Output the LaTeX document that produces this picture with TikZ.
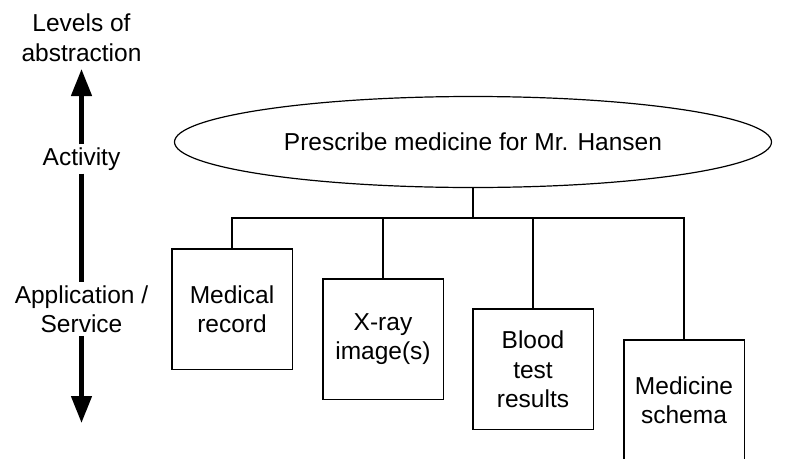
\documentclass[tikz,border=0pt]{standalone}
\usepackage{fontspec}
\setmainfont{Liberation Sans}
\usetikzlibrary{arrows.meta,positioning,shapes.geometric}
\definecolor{mhInk}{RGB}{0,0,0}
\tikzset{
  lbl/.style={align=center,inner sep=3pt,font=\fontsize{24.5}{29.5}\selectfont},
  goalnode/.style={ellipse,draw=mhInk,line width=1.2pt,inner sep=0pt,
    minimum width=597pt,minimum height=91pt,font=\fontsize{24.5}{29.5}\selectfont},
  appbox/.style={draw=mhInk,line width=1.5pt,minimum size=120.5pt,inner sep=0pt,
    anchor=north,align=center,font=\fontsize{24.5}{29.5}\selectfont},
  wire/.style={draw=mhInk,line width=1.8pt},
  levelarrow/.style={draw=mhInk,line width=4.5pt,-{Triangle[length=27pt,width=20pt]}}
}

\begin{document}
\begin{tikzpicture}[x=1pt,y=-1pt]
  \useasboundingbox (0,0) rectangle (797,458);
  % levels of abstraction
  \node[lbl] (levels) at (81.5,37.5) {Levels of\\abstraction};
  \node[lbl] (act) at (81.5,159) {Activity};
  \node[lbl] (app) at (81.5,309) {Application /\\Service};
  \coordinate (upTip) at (81.5,69);
  \coordinate (downTip) at (81.5,423);
  \draw[levelarrow] (act.north) -- (upTip);
  \draw[draw=mhInk,line width=4.5pt] (act.south) -- (app.north);
  \draw[levelarrow] (app.south) -- (downTip);

  % activity and its applications
  \node[goalnode] (goal) at (473,142) {Prescribe medicine for Mr. Hansen};
  \node[appbox] (record) at (232,248.3) {Medical\\record};
  \node[appbox] (xray) at (383,278) {X-ray\\image(s)};
  \node[appbox] (blood) at (533,308.3) {Blood\\test\\results};
  \node[appbox] (schema) at (684,339) {Medicine\\schema};
  \coordinate (bus) at (473,218);
  \draw[wire] (goal.south) -- (bus);
  \draw[wire] (record.north) |- (bus) -| (schema.north);
  \draw[wire] (xray.north) -- (xray.north |- bus);
  \draw[wire] (blood.north) -- (blood.north |- bus);
\end{tikzpicture}
\end{document}
